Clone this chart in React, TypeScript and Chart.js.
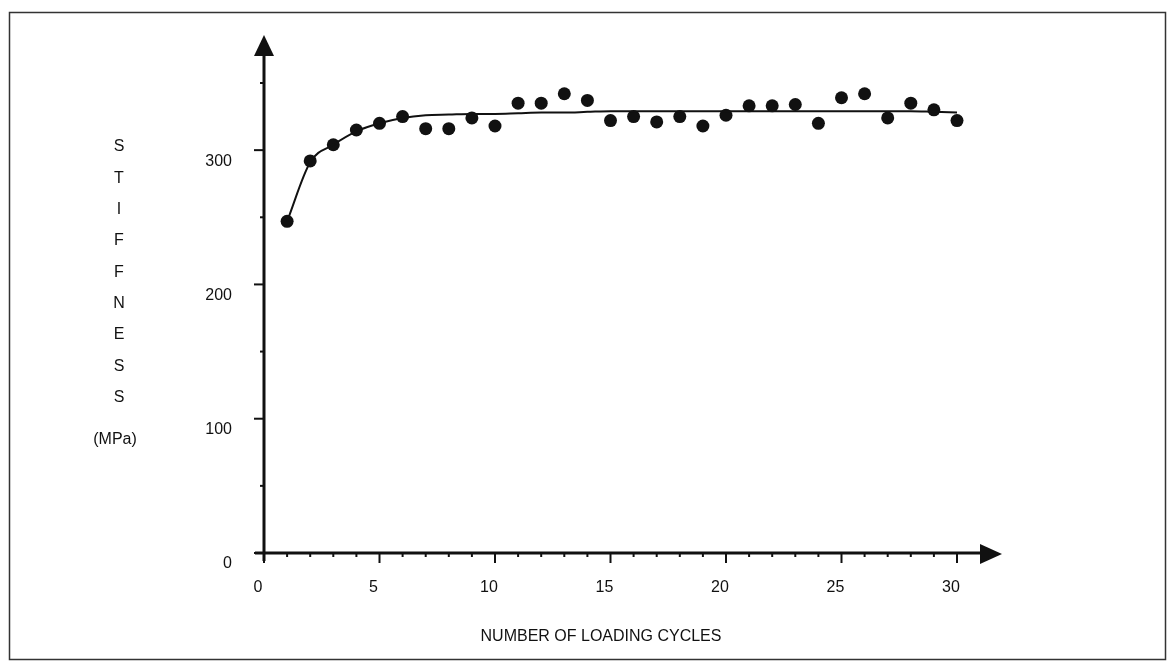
import React, { useEffect, useRef } from "react";
import { Chart, registerables } from "chart.js";

Chart.register(...registerables);

// ---- data ----
const cycles = [1, 2, 3, 4, 5, 6, 7, 8, 9, 10, 11, 12, 13, 14, 15, 16, 17, 18, 19, 20, 21, 22, 23, 24, 25, 26, 27, 28, 29, 30];
const stiffness = [247, 292, 304, 315, 320, 325, 316, 316, 324, 318, 335, 335, 342, 337, 322, 325, 321, 325, 318, 326, 333, 333, 334, 320, 339, 342, 324, 335, 330, 322];
const fitCurve = [247, 291, 304, 314, 320, 324, 326, 326.5, 327, 327, 327.5, 328, 328, 328.5, 329, 329, 329, 329, 329, 329, 329, 329, 329, 329, 329, 329, 329, 329, 328.5, 328];
const xTickLabels = [0, 5, 10, 15, 20, 25, 30];
const yTickLabels = [0, 100, 200, 300];
const yTitleLetters = ["S", "T", "I", "F", "F", "N", "E", "S", "S"];
const yTitleUnit = "(MPa)";
const xTitle = "NUMBER OF LOADING CYCLES";

const FONT = "'Liberation Sans', Arial, sans-serif";
const INK = "#111";

const decorPlugin = {
  id: "decor",
  afterDraw(chart: any) {
    const ctx = chart.ctx as CanvasRenderingContext2D;
    const xs = chart.scales.x;
    const ys = chart.scales.y;
    const x0 = xs.getPixelForValue(0);
    const y0 = ys.getPixelForValue(0);
    ctx.save();

    // frame
    ctx.strokeStyle = "#333";
    ctx.lineWidth = 1.5;
    ctx.strokeRect(9.5, 12.5, 1156, 647);

    ctx.strokeStyle = INK;
    ctx.fillStyle = INK;
    ctx.lineCap = "butt";

    // y axis line + arrow
    const yTop = 35;
    ctx.lineWidth = 3;
    ctx.beginPath();
    ctx.moveTo(x0, y0 + 8);
    ctx.lineTo(x0, yTop + 15);
    ctx.stroke();
    ctx.beginPath();
    ctx.moveTo(x0, yTop);
    ctx.lineTo(x0 - 10, yTop + 21);
    ctx.lineTo(x0 + 10, yTop + 21);
    ctx.closePath();
    ctx.fill();

    // x axis line + arrow
    const xTip = 1002;
    ctx.beginPath();
    ctx.moveTo(x0 - 9, y0);
    ctx.lineTo(xTip - 15, y0);
    ctx.stroke();
    ctx.beginPath();
    ctx.moveTo(xTip, y0 + 1);
    ctx.lineTo(xTip - 22, y0 - 9);
    ctx.lineTo(xTip - 22, y0 + 11);
    ctx.closePath();
    ctx.fill();

    // tick marks
    ctx.lineWidth = 2;
    xs.ticks.forEach((t: any) => {
      const px = xs.getPixelForValue(t.value);
      const len = xTickLabels.includes(t.value) ? 10 : 4;
      ctx.beginPath();
      ctx.moveTo(px, y0);
      ctx.lineTo(px, y0 + len);
      ctx.stroke();
    });
    ys.ticks.forEach((t: any) => {
      const py = ys.getPixelForValue(t.value);
      const len = yTickLabels.includes(t.value) ? 10 : 4;
      ctx.beginPath();
      ctx.moveTo(x0, py);
      ctx.lineTo(x0 - len, py);
      ctx.stroke();
    });

    // y title: stacked letters
    ctx.font = `16px ${FONT}`;
    ctx.textAlign = "center";
    ctx.textBaseline = "middle";
    yTitleLetters.forEach((ch, i) => {
      ctx.fillText(ch, 119, 147 + i * 31.3);
    });
    ctx.fillText(yTitleUnit, 115, 440);

    // x title
    ctx.font = `16px ${FONT}`;
    ctx.fillText(xTitle, 601, 637);

    ctx.restore();
  },
};

export default function App() {
  const canvasRef = useRef<HTMLCanvasElement | null>(null);

  useEffect(() => {
    const canvas = canvasRef.current;
    if (!canvas) return;
    const chart = new Chart(canvas, {
      type: "scatter",
      data: {
        datasets: [
          {
            label: "Fit",
            data: cycles.map((c, i) => ({ x: c, y: fitCurve[i] })),
            showLine: true,
            borderColor: INK,
            borderWidth: 2,
            pointRadius: 0,
            cubicInterpolationMode: "monotone",
            clip: false,
          },
          {
            label: "Stiffness",
            data: cycles.map((c, i) => ({ x: c, y: stiffness[i] })),
            showLine: false,
            backgroundColor: INK,
            borderColor: INK,
            borderWidth: 0,
            pointRadius: 6.5,
            clip: false,
          },
        ],
      },
      options: {
        responsive: false,
        animation: false,
        devicePixelRatio: 1,
        layout: { padding: { left: 0, right: 212, top: 83, bottom: 0 } },
        plugins: {
          legend: { display: false },
          tooltip: { enabled: false },
          title: { display: false },
        },
        scales: {
          x: {
            type: "linear",
            min: 0,
            max: 30,
            afterFit: (s: any) => {
              s.height = 111;
            },
            grid: { display: false, drawTicks: false },
            border: { display: false },
            ticks: {
              stepSize: 1,
              autoSkip: false,
              maxRotation: 0,
              padding: 25,
              labelOffset: -6,
              color: INK,
              font: { family: FONT, size: 16 },
              callback: (v: any) => (xTickLabels.includes(Number(v)) ? String(v) : ""),
            },
          },
          y: {
            type: "linear",
            min: 0,
            max: 350,
            afterFit: (s: any) => {
              s.width = 264;
            },
            grid: { display: false, drawTicks: false },
            border: { display: false },
            ticks: {
              stepSize: 50,
              autoSkip: false,
              padding: 32,
              labelOffset: 11,
              color: INK,
              font: { family: FONT, size: 16 },
              callback: (v: any) => (yTickLabels.includes(Number(v)) ? String(v) : ""),
            },
          },
        },
      },
      plugins: [decorPlugin],
    } as any);
    return () => chart.destroy();
  }, []);

  return (
    <div style={{ position: "fixed", left: 0, top: 0, width: 1169, height: 664, background: "#fff" }}>
      <canvas ref={canvasRef} width={1169} height={664} style={{ display: "block" }} />
    </div>
  );
}
